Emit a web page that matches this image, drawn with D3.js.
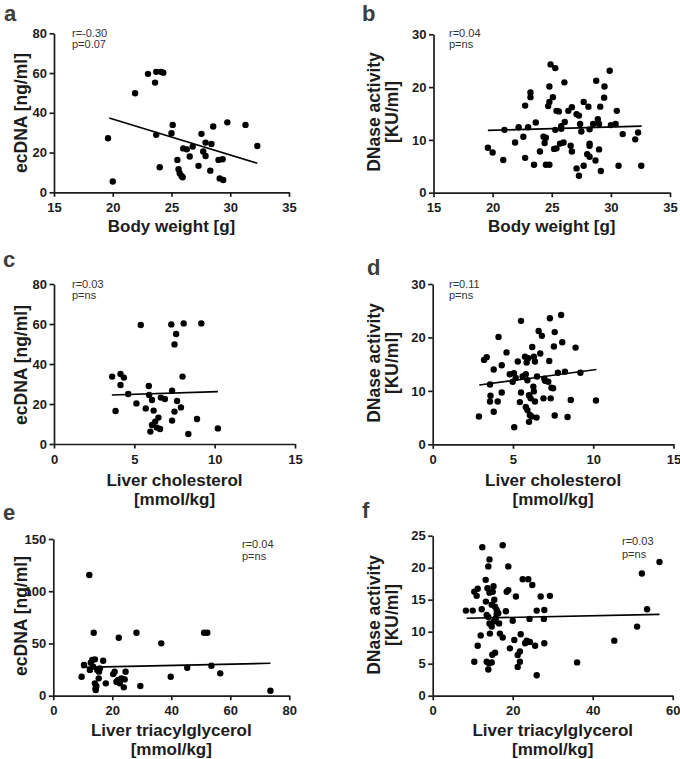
<!DOCTYPE html>
<html><head><meta charset="utf-8">
<script src="https://cdn.jsdelivr.net/npm/d3@7"></script>
<style>
body{margin:0;background:#fff}
svg{display:block}
text{font-family:"Liberation Sans",Arial,Helvetica,sans-serif}
</style>
</head><body>
<svg id="chart" width="680" height="759"></svg>
<script>
// ---------- DATA ----------
const pointsA = [[19.6,27.2],[20.0,5.4],[21.9,49.8],[23.0,59.6],[23.6,55.2],[23.7,60.6],[24.1,60.6],[24.3,60.2],[23.7,28.9],[24.0,12.6],[25.0,29.7],[25.1,33.9],[25.5,16.3],[25.6,11.6],[25.7,9.6],[25.85,8.2],[25.95,7.6],[26.0,22.1],[26.3,21.6],[26.55,18.0],[26.8,23.0],[27.3,13.3],[27.55,29.4],[27.7,20.5],[27.9,25.0],[27.9,18.3],[28.4,24.3],[28.55,33.1],[28.3,10.9],[29.0,16.3],[29.1,7.0],[29.4,6.2],[29.35,16.6],[29.75,35.2],[31.3,33.9],[32.3,23.3]];
const pointsB = [[19.6,8.5],[20.0,7.6],[20.9,6.2],[21.0,11.9],[21.9,9.5],[22.2,12.4],[22.6,10.6],[22.75,16.5],[22.75,6.6],[23.0,12.4],[23.2,19.0],[23.2,18.1],[23.5,5.3],[23.65,13.3],[24.0,7.8],[24.3,10.6],[24.5,10.4],[24.4,9.4],[24.5,5.3],[24.8,5.3],[24.8,20.1],[24.7,16.4],[24.8,17.2],[24.9,24.3],[25.3,23.6],[25.1,18.1],[25.4,15.5],[25.6,15.4],[25.3,11.9],[25.8,12.1],[25.8,12.6],[26.1,13.4],[25.7,9.3],[26.0,9.5],[25.4,8.4],[25.2,8.3],[26.07,20.9],[26.4,15.5],[26.7,16.2],[26.6,8.9],[26.7,7.8],[27.1,14.85],[27.3,14.6],[27.4,13.0],[27.5,11.6],[27.1,4.6],[27.3,3.2],[27.7,5.1],[27.7,17.2],[28.1,16.3],[28.2,12.0],[28.2,9.3],[28.2,8.9],[28.0,7.3],[28.2,6.8],[28.5,13.0],[28.7,6.1],[28.76,21.2],[28.9,13.9],[29.0,13.0],[29.0,8.2],[29.1,16.3],[29.15,4.1],[29.46,20.1],[29.43,18.0],[29.9,23.1],[30.0,12.8],[30.4,13.0],[30.5,15.5],[30.65,5.1],[31.0,11.1],[32.3,11.4],[32.06,10.1],[32.57,5.1]];
const pointsC = [[3.62,33.7],[3.83,16.5],[4.14,35.0],[4.14,29.5],[4.35,33.2],[4.62,25.0],[5.13,20.3],[5.4,59.5],[5.71,17.8],[5.9,29.0],[5.92,24.5],[6.1,22.0],[6.2,16.7],[6.0,6.2],[6.1,9.5],[6.3,11.2],[6.5,13.2],[6.4,8.2],[6.6,7.5],[6.65,23.2],[6.9,22.5],[7.3,59.8],[7.35,26.7],[7.35,11.7],[7.5,16.2],[7.6,55.0],[7.5,49.8],[7.66,21.5],[7.9,18.3],[8.0,33.7],[8.07,60.3],[8.36,5.0],[8.9,12.5],[9.17,60.3],[10.2,7.8]];
const pointsD = [[2.88,5.2],[3.2,15.8],[3.36,16.3],[3.57,11.2],[3.6,9.1],[3.57,8.0],[3.8,14.0],[3.8,6.1],[4.1,20.1],[4.3,14.8],[4.05,8.0],[4.3,9.7],[4.6,17.2],[4.8,13.1],[5.06,13.3],[4.98,11.7],[5.17,12.4],[5.08,3.2],[5.3,15.5],[5.5,23.1],[5.43,7.9],[5.5,9.7],[5.6,12.7],[5.8,13.1],[5.75,16.4],[5.85,15.3],[5.95,16.1],[5.9,12.0],[5.8,7.0],[5.9,6.4],[6.0,4.2],[6.05,5.5],[6.16,5.2],[6.2,18.2],[6.3,16.4],[6.37,15.5],[6.0,9.2],[6.1,8.6],[6.27,10.8],[6.3,9.9],[6.37,8.0],[6.5,12.7],[6.6,21.2],[6.7,17.0],[6.47,5.0],[6.8,20.3],[6.9,8.6],[6.95,12.3],[7.0,11.9],[7.2,11.7],[7.26,15.6],[7.3,23.6],[7.35,8.6],[7.4,10.6],[7.5,10.5],[7.55,18.3],[7.6,21.0],[7.6,5.4],[7.8,13.4],[8.0,24.2],[8.07,19.1],[8.24,13.6],[8.4,5.1],[8.6,8.3],[8.9,18.1],[9.2,13.4],[10.17,8.2]];
const pointsE = [[9.6,18.2],[10.4,29.4],[12.4,24.6],[12.2,115.5],[12.7,31.6],[13.2,34.2],[13.5,27.8],[13.7,60.3],[14.1,34.8],[14.1,11.8],[14.3,7.0],[14.4,5.4],[14.6,9.3],[14.9,24.6],[15.5,23.0],[15.8,26.2],[15.4,16.6],[16.9,33.5],[17.8,11.8],[20.3,20.7],[20.8,23.0],[22.2,55.5],[21.4,13.4],[22.0,15.0],[22.5,11.8],[23.1,16.6],[23.9,8.0],[24.5,23.0],[24.2,15.6],[28.2,60.3],[29.5,9.3],[36.6,50.1],[39.8,18.2],[45.4,26.8],[51.1,60.3],[52.2,60.3],[53.6,28.7],[56.6,21.4],[73.6,4.8]];
const pointsF = [[8.3,13.3],[10.0,13.3],[10.4,16.25],[11.25,16.7],[11.0,15.6],[10.4,5.3],[11.25,7.8],[12.0,9.4],[12.4,23.2],[12.25,13.5],[13.25,18.1],[13.3,14.7],[13.5,12.6],[13.9,12.3],[13.9,20.2],[14.2,21.3],[13.7,16.8],[14.2,16.1],[13.5,5.3],[14.1,5.05],[13.9,4.1],[14.75,5.2],[14.9,6.4],[15.6,6.7],[15.2,17.1],[15.0,16.25],[15.4,15.0],[14.2,11.3],[14.75,10.8],[14.3,9.7],[15.3,11.6],[15.75,12.1],[16.0,12.8],[14.75,14.2],[15.6,13.9],[16.0,13.4],[16.4,12.9],[16.6,11.3],[16.8,9.7],[17.5,9.1],[17.5,23.5],[18.9,20.2],[18.9,16.5],[18.5,16.25],[18.3,13.2],[19.3,7.4],[20.0,11.7],[20.4,8.7],[20.8,15.5],[21.25,6.35],[21.8,6.9],[21.25,4.5],[21.8,5.3],[22.0,9.6],[22.5,18.2],[23.9,18.2],[23.1,8.2],[23.5,8.6],[24.3,8.4],[24.2,12.0],[24.9,17.3],[25.6,7.8],[26.0,13.3],[26.0,3.2],[27.0,15.5],[27.8,12.0],[27.9,13.4],[27.9,8.2],[29.3,15.6],[36.1,5.2],[45.4,8.6],[51.1,10.8],[53.6,13.5],[52.3,19.1],[56.7,20.9]];

// regression line end points
const fitA = [[19.7,37.4],[32.3,14.6]];
const fitB = [[19.6,11.8],[32.6,12.6]];
const fitC = [[3.6,24.5],[10.2,26.2]];
const fitD = [[2.9,11.1],[10.2,14.0]];
const fitE = [[9.6,27.1],[73.6,31.0]];
const fitF = [[8.5,12.1],[56.7,12.7]];

// tick values
const xTicksBody = [15,20,25,30,35];
const xTicksChol = [0,5,10,15];
const xTicksTag = [0,20,40,60,80];
const xTicksTagF = [0,20,40,60];
const yTicksEc = [0,20,40,60,80];
const yTicksDn = [0,10,20,30];
const yTicksEcE = [0,50,100,150];
const yTicksDnF = [0,5,10,15,20,25];

// labels
const letters = ["a","b","c","d","e","f"];
const stats = [["r=-0.30","p=0.07"],["r=0.04","p=ns"],["r=0.03","p=ns"],["r=0.11","p=ns"],["r=0.04","p=ns"],["r=0.03","p=ns"]];
const yTitleEc = ["ecDNA [ng/ml]"];
const yTitleDn = ["DNase activity","[KU/ml]"];
const xTitleBody = ["Body weight [g]"];
const xTitleChol = ["Liver cholesterol","[mmol/kg]"];
const xTitleTag = ["Liver triacylglycerol","[mmol/kg]"];

// ---------- LAYOUT ----------
const svg = d3.select("#chart");
const ink = "#1c1c1c";

const panels = [
  {pts:pointsA, fit:fitA, xd:[15,35], yd:[0,80], xt:xTicksBody, yt:yTicksEc, xr:[54,289], yr:[192.3,33.3],
   xTitle:xTitleBody, xtb:[232], yTitle:yTitleEc, ytx:27, yty:113, letter:[4,20.5], stat:[72,37,48]},
  {pts:pointsB, fit:fitB, xd:[15,35], yd:[0,30], xt:xTicksBody, yt:yTicksDn, xr:[433.5,670], yr:[192.7,34.3],
   xTitle:xTitleBody, xtb:[232], yTitle:yTitleDn, ytx:380, yty:112, letter:[362,20.5], stat:[449,37,48]},
  {pts:pointsC, fit:fitC, xd:[0,15], yd:[0,80], xt:xTicksChol, yt:yTicksEc, xr:[54,295], yr:[444,284],
   xTitle:xTitleChol, xtb:[486,505], yTitle:yTitleEc, ytx:27, yty:365, letter:[3,267], stat:[72,288,299]},
  {pts:pointsD, fit:fitD, xd:[0,15], yd:[0,30], xt:xTicksChol, yt:yTicksDn, xr:[432.7,673.5], yr:[444.3,284],
   xTitle:xTitleChol, xtb:[486,505], yTitle:yTitleDn, ytx:380, yty:363, letter:[367,275], stat:[449,288,299]},
  {pts:pointsE, fit:fitE, xd:[0,80], yd:[0,150], xt:xTicksTag, yt:yTicksEcE, xr:[53.3,289.3], yr:[695.7,539],
   xTitle:xTitleTag, xtb:[736,755], yTitle:yTitleEc, ytx:27, yty:616, letter:[3,520], stat:[242,548,560]},
  {pts:pointsF, fit:fitF, xd:[0,60], yd:[0,25], xt:xTicksTagF, yt:yTicksDnF, xr:[432.7,672.7], yr:[695.7,535.7],
   xTitle:xTitleTag, xtb:[736,755], yTitle:yTitleDn, ytx:380, yty:615, letter:[362,518], stat:[622,545,558]}
];

panels.forEach((p,i) => {
  const x = d3.scaleLinear().domain(p.xd).range(p.xr);
  const y = d3.scaleLinear().domain(p.yd).range(p.yr);
  const g = svg.append("g");

  // axes
  const xa = g.append("g").attr("transform",`translate(0,${p.yr[0]})`)
    .call(d3.axisBottom(x).tickValues(p.xt).tickFormat(d3.format("d")).tickSize(4.5).tickSizeOuter(0).tickPadding(6));
  const ya = g.append("g").attr("transform",`translate(${p.xr[0]},0)`)
    .call(d3.axisLeft(y).tickValues(p.yt).tickFormat(d3.format("d")).tickSize(4.5).tickSizeOuter(0).tickPadding(2.5));
  [xa,ya].forEach(a=>{
    a.select(".domain").attr("stroke",ink).attr("stroke-width",1.7);
    a.selectAll(".tick line").attr("stroke",ink).attr("stroke-width",1.7);
    a.selectAll(".tick text").attr("fill",ink).attr("font-size",13).attr("font-weight","bold")
      .attr("font-family",'"Liberation Sans",Arial,sans-serif');
  });

  // points
  g.append("g").selectAll("circle").data(p.pts).join("circle")
    .attr("cx",d=>x(d[0])).attr("cy",d=>y(d[1])).attr("r",3.2).attr("fill","#000");

  // regression line
  g.append("line")
    .attr("x1",x(p.fit[0][0])).attr("y1",y(p.fit[0][1]))
    .attr("x2",x(p.fit[1][0])).attr("y2",y(p.fit[1][1]))
    .attr("stroke","#000").attr("stroke-width",1.6);

  // stats
  stats[i].forEach((s,k)=>{
    g.append("text").attr("x",p.stat[0]).attr("y",p.stat[1+k]).text(s)
      .attr("font-size",11).attr("fill","#333");
  });

  // panel letter
  g.append("text").attr("x",p.letter[0]).attr("y",p.letter[1]).text(letters[i])
    .attr("font-size",22).attr("font-weight","bold").attr("fill","#3d3d3d");

  // x title
  const xc = (p.xr[0]+p.xr[1])/2;
  p.xTitle.forEach((t,k)=>{
    g.append("text").attr("x",xc).attr("y",p.xtb[k]).attr("text-anchor","middle").text(t)
      .attr("font-size",17).attr("font-weight","bold").attr("fill",ink);
  });

  // y title (rotated)
  const yt = g.append("g").attr("transform",`translate(${p.ytx},${p.yty}) rotate(-90)`);
  p.yTitle.forEach((t,k)=>{
    yt.append("text").attr("x",0).attr("y",k*18).attr("text-anchor","middle").text(t)
      .attr("font-size",17.5).attr("font-weight","bold").attr("fill",ink);
  });
});
</script>
</body></html>
